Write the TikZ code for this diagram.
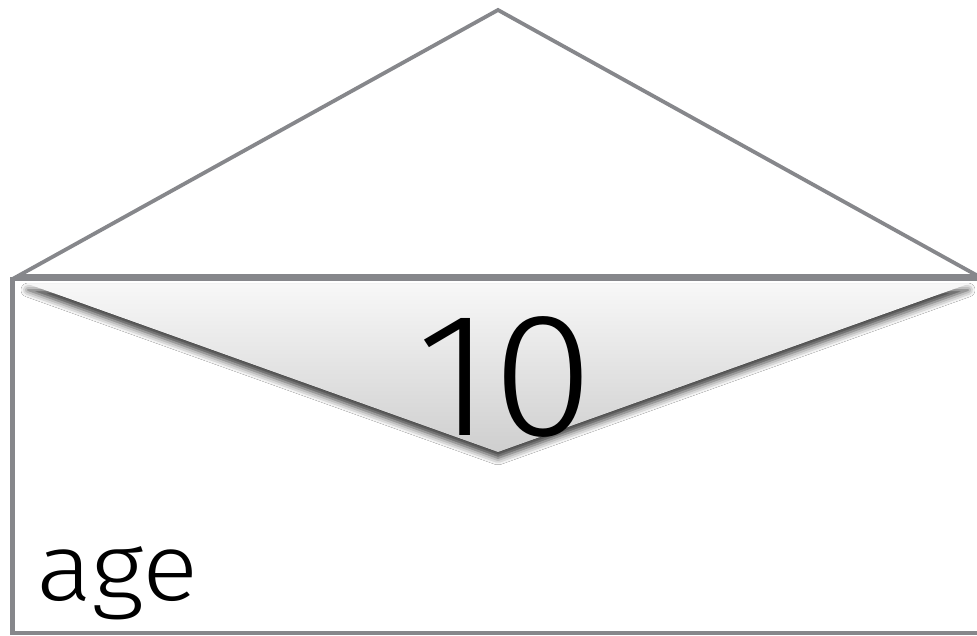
\documentclass[tikz,border=0pt]{standalone}
\usepackage{fontspec}
\setmainfont{Fira Sans Light}
\usetikzlibrary{shadows.blur}
\definecolor{edgegray}{RGB}{134,135,139}
\tikzset{
  outline/.style={draw=edgegray, line width=4pt, line join=miter},
  label/.style={inner sep=0pt, text=black},
}
\begin{document}
\begin{tikzpicture}[x=1pt,y=-1pt]
\useasboundingbox (0,0) rectangle (977,636);
\clip (0,0) rectangle (977,636);
\fill[white] (0,0) rectangle (977,636);
% box
\draw[outline, line width=4.5pt] (1010,279) -- (12.5,279) -- (12.5,633) -- (1010,633);
% roof triangle
\draw[outline, line width=3.8pt] (18,276) -- (498,10) -- (978,276) -- cycle;
% inverted shaded triangle
\path[top color=white!97!black, bottom color=black!19,
  blur shadow={shadow xshift=0pt, shadow yshift=-6pt, shadow blur radius=7pt, shadow opacity=80}]
  (28,284) -- (968,284) -- (498,452) -- cycle;
\node[label, anchor=base, font=\fontsize{176}{176}\selectfont] (value) at (505,435) {\scalebox{1.05}[1]{10}};
\node[label, anchor=base west, font=\fontsize{95}{95}\selectfont] (name) at (36,600) {\scalebox{1.1}[1]{age}};
\end{tikzpicture}
\end{document}
